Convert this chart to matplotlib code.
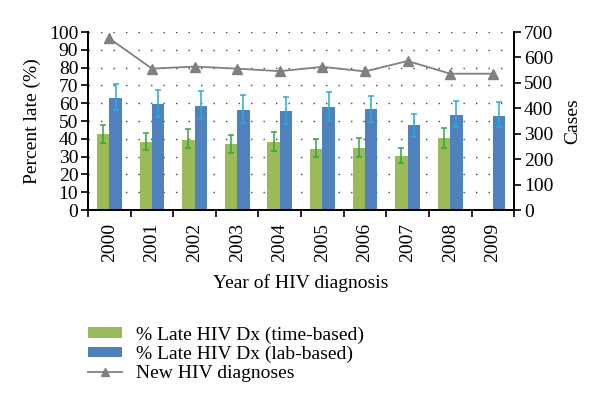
import numpy as np
import matplotlib.pyplot as plt
from matplotlib.ticker import MultipleLocator, FixedLocator

plt.rcParams["font.family"] = ["Liberation Serif", "DejaVu Serif"]

years = ["2000", "2001", "2002", "2003", "2004", "2005", "2006", "2007", "2008", "2009"]
time_based = [42.5, 38, 39.5, 37, 38, 34, 34.7, 30.3, 40.6, np.nan]
time_lo = [37.5, 33.5, 35, 32, 33, 29.6, 29.8, 26.2, 35, np.nan]
time_hi = [48, 43.5, 45.5, 42, 44, 39.7, 40.4, 35, 46.2, np.nan]
lab_based = [63, 59.5, 58.5, 56, 55.5, 57.9, 56.6, 47.6, 53.4, 53]
lab_lo = [56, 52, 51, 49, 48.5, 50.6, 49.3, 41.2, 46.5, 46.8]
lab_hi = [71, 67.5, 67, 64.5, 63.5, 66.5, 64.2, 53.9, 61, 60.5]
new_dx = [675, 556, 564, 556, 546, 563, 545, 586, 536, 536]

green = "#9BBB59"
blue = "#4F81BD"
fs = 14

fig = plt.figure(figsize=(6, 4.19), dpi=100)
ax = fig.add_axes([0.1467, 0.4988, 0.7103, 0.4248])
ax2 = ax.twinx()

x = np.arange(len(years))
w = 0.29
tb = np.array(time_based)
lb = np.array(lab_based)
err_t = [tb - np.array(time_lo), np.array(time_hi) - tb]
err_l = [lb - np.array(lab_lo), np.array(lab_hi) - lb]

ax.bar(x - w / 2, tb, w, color=green, label="% Late HIV Dx (time-based)", zorder=2)
ax.bar(x + w / 2, lb, w, color=blue, label="% Late HIV Dx (lab-based)", zorder=2)
ax.errorbar(x - w / 2, tb, yerr=err_t, fmt="none", ecolor="#2BA84A",
            elinewidth=1.1, capsize=2.5, capthick=1.1, zorder=3)
ax.errorbar(x + w / 2, lb, yerr=err_l, fmt="none", ecolor="#27AAE1",
            elinewidth=1.1, capsize=2.5, capthick=1.1, zorder=3)

line, = ax2.plot(x, new_dx, color="#808080", lw=1.3, marker="^", ms=6.5,
                 label="New HIV diagnoses")

ax.set_xlim(-0.5, len(years) - 0.5)
ax.set_ylim(0, 100)
ax2.set_ylim(0, 700)
ax.yaxis.set_major_locator(MultipleLocator(10))
ax2.yaxis.set_major_locator(MultipleLocator(100))
ax.grid(axis="y", ls=(0, (1, 8)), color="#444444", lw=1.0, zorder=0)
ax.set_axisbelow(True)

ax.set_xticks(x)
ax.set_xticklabels(years, rotation=90, fontsize=fs)
ax.xaxis.set_minor_locator(FixedLocator(np.arange(-0.5, len(years), 1)))
ax.tick_params(axis="x", which="major", length=0, pad=9)
ax.tick_params(axis="x", which="minor", length=5, width=1.2, direction="out")
ax.tick_params(axis="y", labelsize=fs, length=5, width=1.2, pad=2)
ax2.tick_params(axis="y", labelsize=fs, length=5, width=1.2, pad=2)

for a in (ax, ax2):
    a.spines["top"].set_visible(False)
    for s in ("left", "right", "bottom"):
        a.spines[s].set_linewidth(1.3)

ax.set_ylabel("Percent late (%)", fontsize=fs)
ax.yaxis.set_label_coords(-0.11, 0.5)
ax2.set_ylabel("Cases", fontsize=fs)
ax2.yaxis.set_label_coords(1.118, 0.5)
ax.set_xlabel("Year of HIV diagnosis", fontsize=fs, labelpad=9)

h1, l1 = ax.get_legend_handles_labels()
fig.legend(h1 + [line], l1 + ["New HIV diagnoses"], loc="upper left",
           bbox_to_anchor=(0.134, 0.24), frameon=False, fontsize=fs,
           handlelength=1.75, handleheight=0.45, labelspacing=0.1,
           handletextpad=0.7, borderaxespad=0, markerscale=0.8)

fig.savefig("out.png", dpi=100)
